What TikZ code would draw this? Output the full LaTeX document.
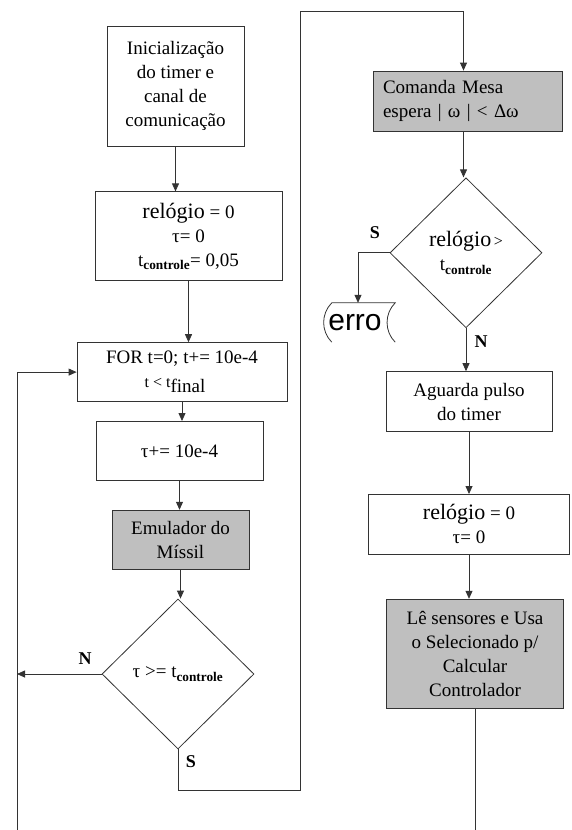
\documentclass[tikz,border=0pt]{standalone}
\usepackage{fontspec}
\setmainfont{Liberation Serif}
\setsansfont{Liberation Sans}
\usetikzlibrary{positioning,shapes.geometric,arrows.meta}

\newcommand{\relg}{{\fontsize{22}{24}\selectfont relógio}}
\newcommand{\tctl}{t\textsubscript{\bfseries controle}}

\begin{document}
\begin{tikzpicture}[
    x=1pt, y=1pt,
    font=\fontsize{19}{24}\selectfont,
    box/.style={draw=black!80, line width=0.8pt, align=center, inner sep=4pt},
    gbox/.style={box, fill=black!25},
    decision/.style={diamond, draw=black!80, line width=0.8pt, aspect=1, inner sep=0pt,
        minimum width=152pt, minimum height=150pt, align=center},
    wire/.style={draw=black!80, line width=0.8pt},
    arr/.style={wire, -{Triangle[length=8pt,width=7pt]}},
    yn/.style={font=\fontsize{18}{18}\selectfont\bfseries}
]
\useasboundingbox (0,0) rectangle (571,-830);

% left column
\node[box, minimum width=137pt, minimum height=120pt] (init) at (175.5,-86)
    {Inicialização\\ do timer e\\ canal de\\ comunicação};
\node[box, minimum width=187pt, minimum height=89pt, below=45pt of init, xshift=13pt] (clk)
    {\relg{} = 0\\ τ= 0\\ \tctl= 0,05};
\node[box, minimum width=210pt, minimum height=59pt, below=61pt of clk, xshift=-6.5pt] (forb)
    {FOR t=0; t+= 10e-4\\ \hspace*{-14pt}{\fontsize{16}{16}\selectfont t < t}\raisebox{-5pt}{final}};
\node[box, minimum width=167pt, minimum height=59pt, below=19pt of forb, xshift=-2.5pt] (tauinc)
    {τ+= 10e-4};
\node[gbox, minimum width=137pt, minimum height=59pt, below=29pt of tauinc, xshift=1pt] (emul)
    {Emulador do\\ Míssil};
\node[decision, below=29pt of emul, xshift=-2.5pt] (dec1) {τ >= \tctl};

% right column
\node[gbox, minimum width=189pt, minimum height=60pt, text width=169pt, align=left] (mesa) at (467.5,-101)
    {Comanda Mesa\\ espera | ω | < Δω};
\node[decision, below=46pt of mesa, xshift=-1.5pt] (dec2)
    {\relg{\fontsize{16}{16}\selectfont\,>}\\ \tctl};
\node[font=\sffamily\fontsize{30}{30}\selectfont, minimum width=74pt, minimum height=39pt, inner sep=0pt]
    (erro) at (358,-322.5) {\hspace*{-6pt}erro};
\node[box, minimum width=166pt, minimum height=60pt, below=43pt of dec2, xshift=3pt] (wait)
    {Aguarda pulso\\ do timer};
\node[box, minimum width=201pt, minimum height=60pt, below=62pt of wait] (clk2)
    {\relg{} = 0\\ τ= 0};
\node[gbox, minimum width=177pt, minimum height=109pt, below=44pt of clk2, xshift=6pt] (read)
    {Lê sensores e Usa\\ o Selecionado p/\\ Calcular\\ Controlador};

% erro outline
\draw[wire] ([xshift=11pt]erro.south west) to[out=135,in=-135] ([xshift=11pt]erro.north west)
    -- (erro.north east) to[out=-135,in=135] (erro.south east);

% loose ends
\coordinate (lbot) at (17,-830);
\coordinate (sbot) at (300,-790);
\coordinate (stop) at (300,-11);

% connectors
\draw[arr] (init.south) -- (init.south |- clk.north);
\draw[arr] (clk.south) -- (clk.south |- forb.north);
\draw[arr] (forb.south) -- (forb.south |- tauinc.north);
\draw[arr] (tauinc.south) -- (tauinc.south |- emul.north);
\draw[arr] (emul.south) -- (emul.south |- dec1.north);
\draw[arr] (lbot) |- (forb.west);
\draw[arr] (dec1.west) -- (dec1.west -| lbot);
\draw[arr] (dec1.south) |- (sbot) -- (stop) -| ([xshift=-4pt]mesa.north);
\draw[arr] ([xshift=-4pt]mesa.south) -- ([xshift=-4pt]mesa.south |- dec2.north);
\draw[arr] (dec2.west) -| (erro.north);
\draw[arr] (dec2.south) -- (dec2.south |- wait.north);
\draw[arr] (wait.south) -- (wait.south |- clk2.north);
\draw[arr] (clk2.south) -- (clk2.south |- read.north);
\draw[wire] (read.south) -- (read.south |- lbot);

% branch labels
\node[yn] (n1) at (85,-659) {N};
\node[yn] (s1) at (191,-762) {S};
\node[yn] (s2) at (375,-233) {S};
\node[yn] (n2) at (481,-342) {N};

\end{tikzpicture}
\end{document}
